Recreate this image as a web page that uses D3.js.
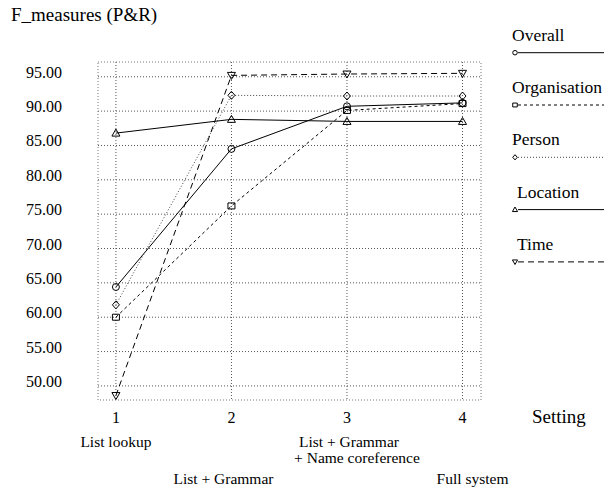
<!DOCTYPE html>
<html>
<head>
<meta charset="utf-8">
<title>F_measures</title>
<script src="https://d3js.org/d3.v7.min.js"></script>
<style>
    body { margin: 0; background: #fff; }
    .grid line { stroke: #555; stroke-width: 1; stroke-dasharray: 1,2; }
    .frame { fill: none; stroke: #777; stroke-width: 1; stroke-dasharray: 1,2; }
</style>
</head>
<body>
<svg id="chart" width="604" height="491" font-family="'Liberation Serif', 'Times New Roman', Times, serif"></svg>
<script>
// settings along x, one value per setting for every series
const settings = [1, 2, 3, 4];
const yTicks = [50, 55, 60, 65, 70, 75, 80, 85, 90, 95];
const overall      = [64.4, 84.5, 90.7, 91.2];
const organisation = [60.0, 76.2, 90.1, 91.1];
const person       = [61.8, 92.3, 92.2, 92.2];
const location_    = [86.8, 88.8, 88.5, 88.5];
const time         = [48.6, 95.2, 95.4, 95.5];

const seriesNames = ["Overall", "Organisation", "Person", "Location", "Time"];
const seriesValues = [overall, organisation, person, location_, time];

// style per series (not data)
const styles = {
    "Overall":      { dash: null,  symbol: "circle",   stroke: "#000" },
    "Organisation": { dash: "3,3", symbol: "square",   stroke: "#000" },
    "Person":       { dash: "1,2", symbol: "diamond",  stroke: "#444" },
    "Location":     { dash: null,  symbol: "up",       stroke: "#000" },
    "Time":         { dash: "6,4", symbol: "down",     stroke: "#000" }
};

const svg = d3.select("#chart");
const x = d3.scaleLinear().domain([0.845, 4.16]).range([98, 481]);
const y = d3.scaleLinear().domain([47.95, 97.15]).range([400, 62]);

// marker shapes
function markerPath(sym, s) {
    s = s || 1;
    if (sym === "circle") return d3.symbol().type(d3.symbolCircle).size(38 * s * s)();
    if (sym === "square") return "M" + (-3.5*s) + "," + (-3*s) + "h" + (7*s) + "v" + (6*s) + "h" + (-7*s) + "Z";
    if (sym === "diamond") return "M0," + (-4*s) + "L" + (3.5*s) + ",0L0," + (4*s) + "L" + (-3.5*s) + ",0Z";
    if (sym === "up") return "M0," + (-4*s) + "L" + (4*s) + "," + (3*s) + "L" + (-4*s) + "," + (3*s) + "Z";
    if (sym === "down") return "M0," + (4*s) + "L" + (4*s) + "," + (-3*s) + "L" + (-4*s) + "," + (-3*s) + "Z";
}

// title
svg.append("text").attr("x", 11).attr("y", 21).attr("font-size", 19).text("F_measures (P&R)");

// grid + frame
const grid = svg.append("g").attr("class", "grid");
grid.selectAll("line.h").data(yTicks).enter().append("line")
    .attr("class", "h")
    .attr("x1", x.range()[0]).attr("x2", x.range()[1])
    .attr("y1", d => y(d)).attr("y2", d => y(d));
grid.selectAll("line.v").data(settings).enter().append("line")
    .attr("class", "v")
    .attr("x1", d => x(d)).attr("x2", d => x(d))
    .attr("y1", y.range()[1]).attr("y2", y.range()[0]);
svg.append("rect").attr("class", "frame")
    .attr("x", x.range()[0]).attr("y", y.range()[1])
    .attr("width", x.range()[1] - x.range()[0])
    .attr("height", y.range()[0] - y.range()[1]);

// y tick labels
svg.selectAll("text.ytick").data(yTicks).enter().append("text")
    .attr("class", "ytick")
    .attr("x", 62).attr("y", d => y(d) + 1)
    .attr("text-anchor", "end")
    .attr("font-size", 16)
    .text(d => d3.format(".2f")(d));

// x tick labels
svg.selectAll("text.xtick").data(settings).enter().append("text")
    .attr("class", "xtick")
    .attr("x", d => x(d)).attr("y", 423)
    .attr("text-anchor", "middle")
    .attr("font-size", 16)
    .text(d => d);
svg.append("text").attr("x", 532).attr("y", 423).attr("font-size", 19).text("Setting");

// setting descriptions
const settingLabels = [
    { s: 1, lines: ["List lookup"], dx: [0], y: 447 },
    { s: 2, lines: ["List + Grammar"], dx: [-8], y: 484 },
    { s: 3, lines: ["List + Grammar", "+ Name coreference"], dx: [2, 10], y: 447 },
    { s: 4, lines: ["Full system"], dx: [10], y: 484 }
];
settingLabels.forEach(l => {
    l.lines.forEach((t, i) => {
        svg.append("text")
            .attr("x", x(l.s) + l.dx[i]).attr("y", l.y + i * 16)
            .attr("text-anchor", "middle")
            .attr("font-size", 15.5)
            .text(t);
    });
});

// series lines + markers
const line = d3.line().x((d, i) => x(settings[i])).y(d => y(d));
seriesNames.forEach((name, k) => {
    const st = styles[name];
    const vals = seriesValues[k];
    svg.append("path")
        .attr("d", line(vals))
        .attr("fill", "none")
        .attr("stroke", st.stroke)
        .attr("stroke-width", 1)
        .attr("stroke-dasharray", st.dash);
    svg.selectAll("path.m" + k).data(vals).enter().append("path")
        .attr("class", "m" + k)
        .attr("transform", (d, i) => "translate(" + x(settings[i]) + "," + y(d) + ")")
        .attr("d", markerPath(st.symbol, 1))
        .attr("fill", "none")
        .attr("stroke", "#000")
        .attr("stroke-width", 1);
});

// legend
const legend = svg.append("g");
seriesNames.forEach((name, i) => {
    const st = styles[name];
    const ty = 40.7 + i * 52.3;
    const tx = i < 3 ? 512 : 517;
    legend.append("text").attr("x", tx).attr("y", ty).attr("font-size", 17.5).text(name);
    const ly = ty + 12;
    legend.append("line")
        .attr("x1", 518).attr("x2", 604)
        .attr("y1", ly).attr("y2", ly)
        .attr("stroke", st.stroke)
        .attr("stroke-width", 1)
        .attr("stroke-dasharray", st.dash);
    legend.append("path")
        .attr("transform", "translate(515," + ly + ")")
        .attr("d", markerPath(st.symbol, 0.65))
        .attr("fill", "#fff")
        .attr("stroke", "#000");
});
</script>
</body>
</html>
